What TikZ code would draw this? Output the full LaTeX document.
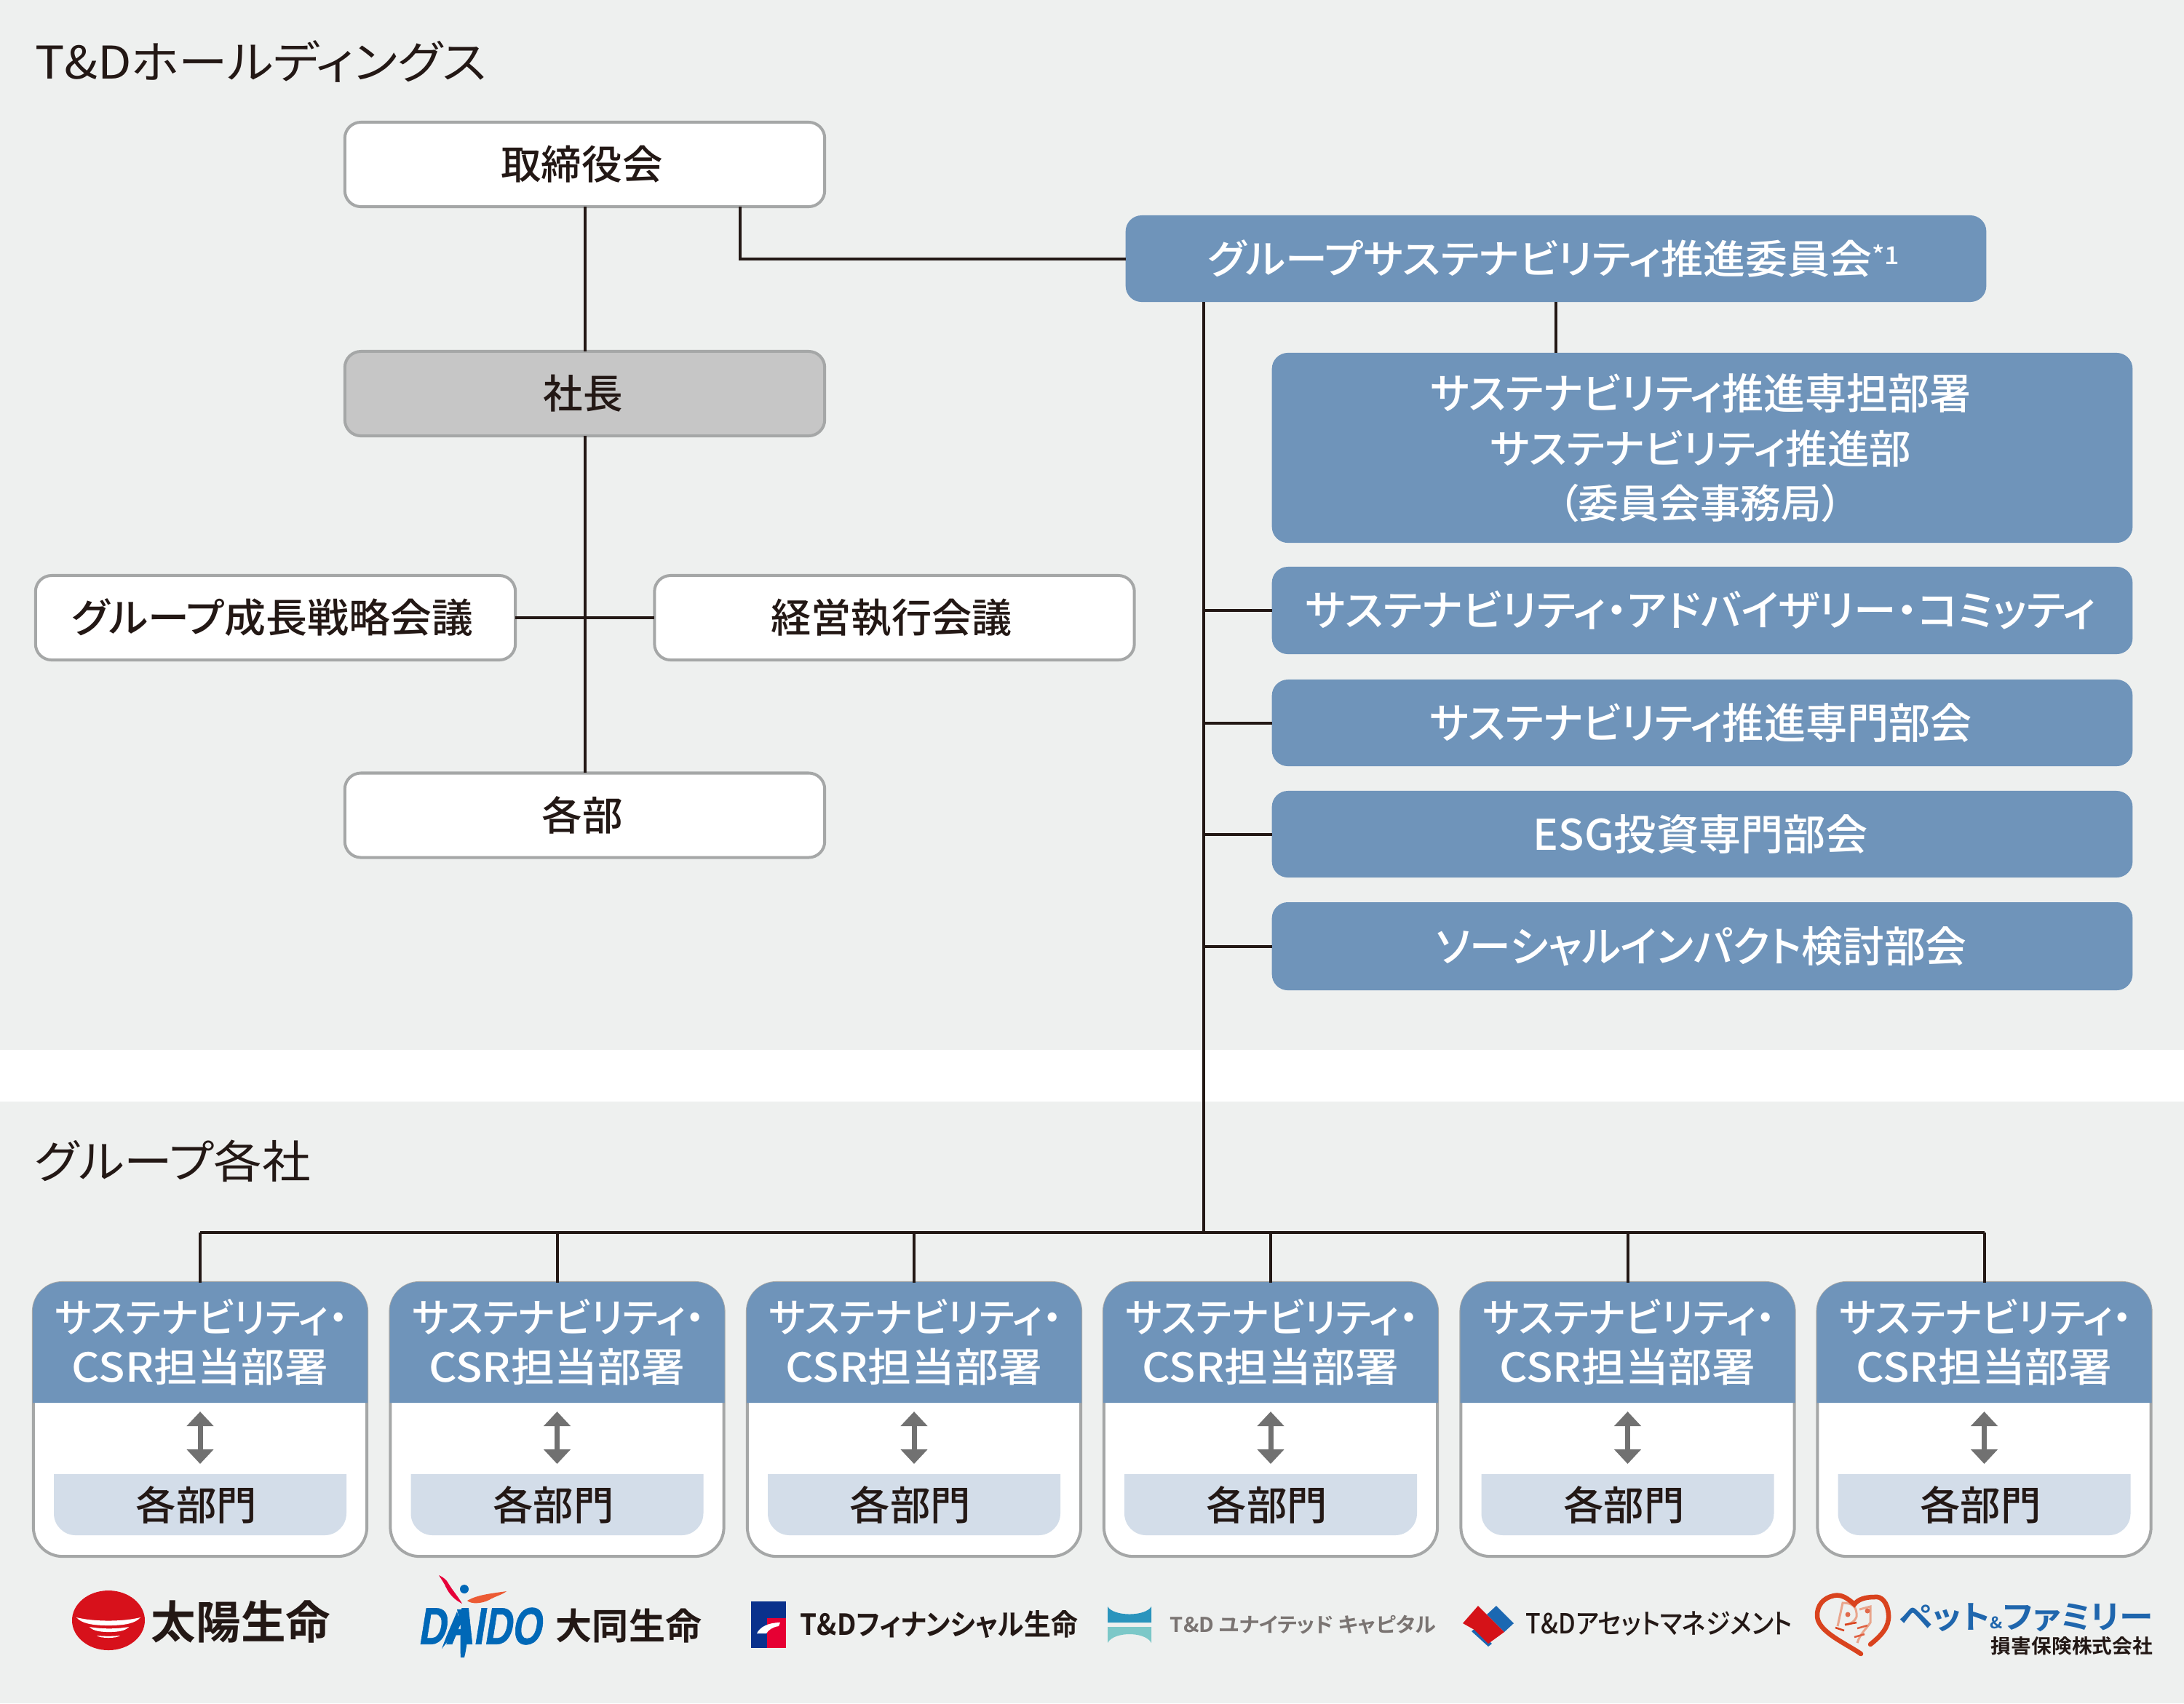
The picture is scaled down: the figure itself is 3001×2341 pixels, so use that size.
\documentclass[tikz,border=0pt]{standalone}
\usepackage{graphicx}
\usepackage{fontspec}
\usetikzlibrary{arrows.meta}
\setmainfont[RawFeature={+palt},BoldFont={Noto Sans CJK JP Bold}]{Noto Sans CJK JP Medium}
\newfontfamily\regf[RawFeature={+palt}]{Noto Sans CJK JP}
\newfontfamily\logolat[FakeSlant=0.22,FakeBold=1]{Liberation Sans}
\newcommand\pxf[1]{\fontsize{\fpeval{#1*0.2845}}{\fpeval{#1*0.34}}\selectfont}
\newcommand\fitx[2]{\resizebox{#1}{\height}{#2}}
\newcommand\lft[1]{\hspace{-#1cm}}
\definecolor{bandc}{HTML}{EEF0EF}
\definecolor{bluec}{HTML}{6F94BA}
\definecolor{lightc}{HTML}{D3DDE9}
\definecolor{grayc}{HTML}{C6C6C6}
\definecolor{edgec}{HTML}{A5A7A7}
\definecolor{inkc}{HTML}{231815}
\definecolor{arrowc}{HTML}{717171}
\definecolor{sunred}{HTML}{D7111B}
\definecolor{daidob}{HTML}{0068B7}
\definecolor{daidor}{HTML}{E60039}
\definecolor{daidoo}{HTML}{EC5B34}
\definecolor{fnavy}{HTML}{0A318C}
\definecolor{fred}{HTML}{E60033}
\definecolor{uteal}{HTML}{2A94BD}
\definecolor{ulight}{HTML}{7CC8C8}
\definecolor{ugray}{HTML}{7A7472}
\definecolor{ared}{HTML}{D51218}
\definecolor{ablue}{HTML}{1B68B2}
\definecolor{petred}{HTML}{D9431E}
\definecolor{petpale}{HTML}{E9A58C}
\definecolor{petblue}{HTML}{1F66AD}
\tikzset{
  base/.style={inner sep=0pt,outer sep=0pt,rounded corners=0.22cm,align=center,text=inkc,font=\pxf{55}},
  whitebox/.style={base,draw=edgec,line width=0.04cm,fill=white,minimum width=6.59cm,minimum height=1.16cm},
  graybox/.style={whitebox,fill=grayc},
  bluebox/.style={base,fill=bluec,text=white,minimum width=11.82cm},
  conn/.style={draw=inkc,line width=0.04cm},
  title/.style={inner sep=0pt,outer sep=0pt,anchor=west,text=inkc,font=\regf\pxf{62}},
  cardbox/.style={inner sep=0pt,outer sep=0pt,draw=edgec,line width=0.04cm,fill=white,rounded corners=0.4cm,minimum width=4.58cm,minimum height=3.76cm},
  cardhead/.style={inner sep=0pt,outer sep=0pt,text=white,align=center,minimum width=4.6cm,minimum height=1.66cm,font=\pxf{55}},
  cardsub/.style={inner sep=0pt,outer sep=0pt,text=inkc,minimum width=4.02cm,minimum height=0.84cm,font=\pxf{55}},
  updown/.style={draw=arrowc,line width=0.07cm,{Triangle[width=0.36cm,length=0.2cm]}-{Triangle[width=0.36cm,length=0.2cm]},shorten <=0.12cm,shorten >=0.14cm},
  logotext/.style={inner sep=0pt,outer sep=0pt,text=inkc,font=\bfseries}
}
\begin{document}
\begin{tikzpicture}[x=0.01cm,y=-0.01cm]
\useasboundingbox (0,0) rectangle (3001,2341);
\fill[white] (0,0) rectangle (3001,2341);
\fill[bandc] (0,0) rectangle (3001,1443);
\fill[bandc] (0,1514) rectangle (3001,2341);

\node[title] (t1) at (48,84) {\fitx{6.2cm}{T\&Dホールディングス}};
\node[title] (t2) at (48,1596) {\fitx{3.79cm}{グループ各社}};

% left column
\node[whitebox] (board) at (803.5,226) {\lft{0.08}\fitx{2.22cm}{取締役会}};
\node[graybox] (pres) at (803.5,541) {\lft{0.04}\fitx{1.09cm}{社長}};
\node[whitebox] (strat) at (378.5,849) {\lft{0.08}\fitx{5.51cm}{グループ成長戦略会議}};
\node[whitebox] (exec) at (1229,849) {\lft{0.08}\fitx{3.31cm}{経営執行会議}};
\node[whitebox] (dept) at (803.5,1120.5) {\lft{0.06}\fitx{1.11cm}{各部}};
\coordinate (boardr) at (1017,355);

% right column
\node[base,fill=bluec,text=white,minimum width=11.82cm,minimum height=1.19cm] (grp) at (2138,355.5)
  {\lft{0.06}\fitx{9.5cm}{グループサステナビリティ推進委員会\raisebox{0.45ex}{\pxf{34}*1}}};
\node[bluebox,minimum height=2.61cm] (b1) at (2339,615.5)
  {\pxf{58}\lft{0.04}\fitx{7.43cm}{サステナビリティ推進専担部署}\\[0.09cm]
   \lft{0.04}\fitx{5.78cm}{サステナビリティ推進部}\\[0.09cm]
   \lft{0.06}\fitx{3.9cm}{（委員会事務局）}};
\node[bluebox,minimum height=1.2cm] (b2) at (2339,839) {\pxf{58}\lft{0.04}\fitx{10.85cm}{サステナビリティ・アドバイザリー・コミッティ}};
\node[bluebox,minimum height=1.19cm] (b3) at (2339,993.5) {\pxf{58}\lft{0.04}\fitx{7.45cm}{サステナビリティ推進専門部会}};
\node[bluebox,minimum height=1.19cm] (b4) at (2339,1146.5) {\pxf{58}\lft{0.04}\fitx{4.6cm}{ESG投資専門部会}};
\node[bluebox,minimum height=1.21cm] (b5) at (2339,1300.5) {\pxf{58}\lft{0.02}\fitx{7.29cm}{ソーシャルインパクト検討部会}};

\coordinate (bus) at (1654,1694);

% connectors
\draw[conn] (board) -- (pres);
\draw[conn] (pres) -- (dept);
\draw[conn] (strat) -- (exec);
\draw[conn] (boardr |- board.south) |- (grp.west);
\draw[conn] (grp.south -| bus) -- (bus);
\draw[conn] (grp.south) -- (grp.south |- b1.north);
\draw[conn] (bus |- b2.west) -- (b2.west);
\draw[conn] (bus |- b3.west) -- (b3.west);
\draw[conn] (bus |- b4.west) -- (b4.west);
\draw[conn] (bus |- b5.west) -- (b5.west);

% cards
\foreach \i/\cx in {1/275,2/765.5,3/1256,4/1746,5/2236.5,6/2726.5} {
  \node[cardbox] (card\i) at (\cx,1951) {};
  \fill[bluec] (\cx-230,1928) [rounded corners=0.4cm] -- (\cx-230,1762) -- (\cx+230,1762) [sharp corners] -- (\cx+230,1928) -- cycle;
  \fill[lightc] (\cx-201,2026) [rounded corners=0.3cm] -- (\cx-201,2110) -- (\cx+201,2110) [sharp corners] -- (\cx+201,2026) -- cycle;
  \node[cardhead] (head\i) at (\cx,1845) {\pxf{55}\hspace{0.04cm}\fitx{4.02cm}{サステナビリティ・}\\[0.02cm]\fitx{3.52cm}{CSR担当部署}};
  \node[cardsub] (sub\i) at (\cx,2068) {\hspace{-0.1cm}\fitx{1.66cm}{各部門}};
  \draw[updown] (head\i) -- (sub\i);
  \draw[conn] (bus -| card\i.north) -- (card\i.north);
}
\draw[conn] (bus -| card1.north) -- (bus -| card6.north);

% logo: Taiyo
\fill[sunred] (149,2227) ellipse [x radius=50,y radius=41];
\fill[white] (105,2223) .. controls (130,2229) and (168,2229) .. (193,2223) .. controls (186,2231) and (172,2234) .. (149,2234) .. controls (126,2234) and (112,2231) .. (105,2223) -- cycle;
\fill[white] (123,2236) .. controls (140,2239) and (160,2239) .. (177,2236) .. controls (172,2242) and (160,2243) .. (150,2243) .. controls (140,2243) and (128,2242) .. (123,2236) -- cycle;
\fill[white] (133,2248) .. controls (143,2249) and (155,2249) .. (165,2248) .. controls (160,2252) and (138,2252) .. (133,2248) -- cycle;
\node[logotext,font=\bfseries\pxf{62}] (lg1) at (331,2229) {\fitx{2.46cm}{太陽生命}};

% logo: Daido
\node[logotext,text=daidob] (lg2a) at (659,2235) {\resizebox{1.69cm}{0.5cm}{\logolat DAIDO}};
\fill[daidor] (603,2165) .. controls (610,2168) and (614,2172) .. (616,2176) .. controls (622,2186) and (630,2195) .. (635,2204) .. controls (625,2199) and (618,2192) .. (613,2182) .. controls (610,2175) and (606,2170) .. (603,2165) -- cycle;
\fill[daidob] (638,2184) circle [radius=6];
\fill[daidoo] (642,2200) .. controls (655,2192) and (675,2190) .. (696,2187) .. controls (690,2192) and (680,2194) .. (672,2199) .. controls (662,2204) and (648,2205) .. (642,2200) -- cycle;
\fill[daidob] (641,2212) .. controls (645,2235) and (642,2262) .. (638,2278) -- (633,2278) .. controls (632,2262) and (633,2245) .. (633,2233) -- (628,2212) -- cycle;
\fill[daidob] (633,2233) -- (607,2266) -- (613,2250) -- (628,2215) -- cycle;
\node[logotext,font=\bfseries\pxf{50}] (lg2) at (864,2235) {\fitx{2.0cm}{大同生命}};

% logo: Financial
\fill[fnavy] (1032,2201) rectangle (1080,2265);
\fill[fred] (1054,2224) rectangle (1080,2265);
\fill[white] (1040,2245) .. controls (1044,2236) and (1056,2230) .. (1072,2230) -- (1070,2235) .. controls (1062,2236) and (1056,2240) .. (1053,2245) -- cycle;
\node[logotext,font=\bfseries\pxf{40}] (lg3) at (1290.5,2233) {\fitx{3.81cm}{T\&Dフィナンシャル生命}};

% logo: United
\fill[uteal] (1522,2208) .. controls (1530,2222) and (1574,2222) .. (1582,2208) -- (1582,2230) -- (1522,2230) -- cycle;
\fill[ulight] (1522,2236) -- (1582,2236) -- (1582,2258) .. controls (1574,2242) and (1530,2242) .. (1522,2258) -- cycle;
\node[logotext,text=ugray,font=\bfseries\pxf{28}] (lg4) at (1790.5,2233) {\fitx{3.65cm}{T\&D ユナイテッド キャピタル}};

% logo: Asset
\fill[ablue] (2043,2219) -- (2056,2207) -- (2080,2231) -- (2067,2243) -- cycle;
\fill[ablue] (2022,2242) -- (2028,2237) -- (2050,2259) -- (2045,2263) -- cycle;
\fill[ared] (2010,2231) -- (2031,2207) -- (2067,2243) -- (2045,2259) -- (2026,2240) -- cycle;
\node[logotext,font=\pxf{38}] (lg5) at (2280,2232) {\fitx{3.66cm}{T\&Dアセットマネジメント}};

% logo: Pet & Family
\draw[petpale,line width=0.03cm] (2525,2235) -- (2532,2203) .. controls (2545,2203) and (2552,2208) .. (2551,2222) .. controls (2548,2230) and (2540,2233) .. (2535,2233);
\draw[petred,line width=0.025cm] (2522,2237) -- (2534,2241) (2535,2233) -- (2551,2230);
\fill[petred!80] (2539,2219) circle [radius=3.5];
\draw[petpale,line width=0.03cm] (2555,2212) -- (2570,2208) -- (2570,2230) .. controls (2565,2238) and (2556,2245) .. (2552,2258);
\draw[petred!85,line width=0.025cm] (2552,2238) -- (2566,2234) (2548,2250) -- (2562,2246);
\fill[petred!80] (2566,2214) circle [radius=3.5];
\draw[petred,line width=0.065cm,line cap=round] (2570,2260) .. controls (2585,2248) and (2596,2236) .. (2595,2220) .. controls (2594,2202) and (2585,2193) .. (2575,2195) .. controls (2563,2195) and (2553,2198) .. (2548,2205) .. controls (2538,2196) and (2530,2191) .. (2520,2193) .. controls (2505,2196) and (2496,2207) .. (2497,2222) .. controls (2499,2243) and (2535,2258) .. (2557,2273);
\node[logotext,text=petblue,font=\bfseries\pxf{44}] (lg6) at (2784,2223) {\fitx{3.48cm}{ペット{\pxf{22}\&}ファミリー}};
\node[logotext,font=\bfseries\pxf{27}] (lg6b) at (2847,2262) {\fitx{2.22cm}{損害保険株式会社}};
\end{tikzpicture}
\end{document}
